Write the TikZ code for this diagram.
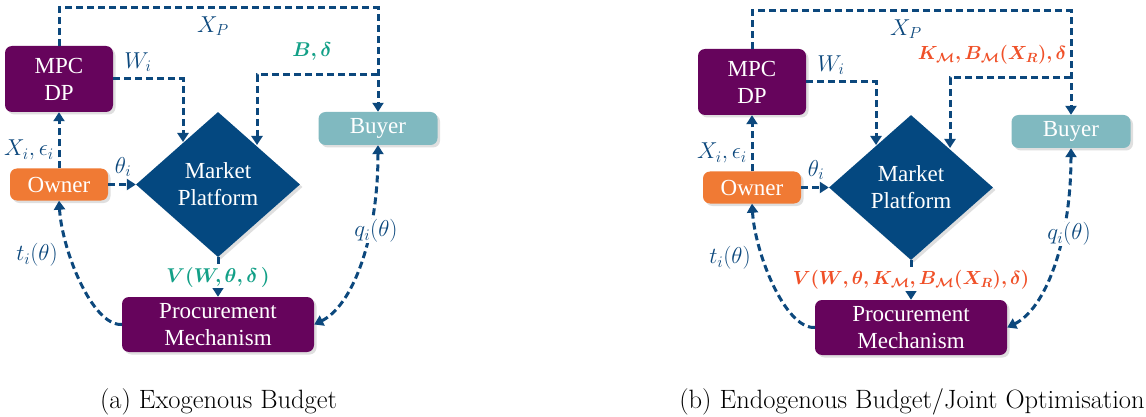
\documentclass[tikz,border=0pt]{standalone}
\usepackage{fix-cm}
\usepackage{amsmath,bm}
\usepackage{fontspec}
\newfontfamily\boxfont{Liberation Serif}
\usetikzlibrary{arrows.meta,shapes.geometric,shadows}
\definecolor{purp}{RGB}{102,4,92}
\definecolor{orng}{RGB}{240,122,52}
\definecolor{buy}{RGB}{128,185,192}
\definecolor{dblue}{RGB}{4,72,128}
\definecolor{lblue}{RGB}{12,72,125}
\definecolor{grn}{RGB}{18,160,135}
\definecolor{rd}{RGB}{240,80,40}
\tikzset{
  >={Triangle[width=11pt,length=9pt]},
  flow/.style={draw=lblue, line width=3pt, dash pattern=on 7pt off 4pt, ->},
  shd/.style={drop shadow={opacity=0.25, shadow xshift=2.5pt, shadow yshift=-2.5pt}},
  box/.style={rounded corners=7pt, text=white, font=\boxfont\fontsize{23}{27}\selectfont, align=center, inner sep=0pt, shd},
  lab/.style={text=lblue, font=\fontsize{23}{27}\selectfont, inner sep=1pt},
  blab/.style={font=\fontsize{20}{24}\selectfont, inner sep=1pt},
  rlab/.style={font=\fontsize{19}{23}\selectfont, inner sep=1pt},
  captxt/.style={font=\fontsize{26.5}{30}\selectfont, anchor=base}
}
\newcommand\drawpanel{%
  \node[box, fill=purp, minimum width=108pt, minimum height=66pt] (mpc) at (59,79) {MPC\\DP};
  \node[box, fill=orng, minimum width=98pt, minimum height=32pt] (owner) at (59,184.5) {Owner};
  \node[box, fill=buy, minimum width=119pt, minimum height=33pt] (buyer) at (378,128.5) {Buyer};
  \node[box, fill=purp, minimum width=192pt, minimum height=55pt] (proc) at (218,324.5) {Procurement\\Mechanism};
  \node[diamond, fill=dblue, minimum width=164pt, minimum height=145pt, inner sep=0pt, text=white, align=center, font=\boxfont\fontsize{23}{27}\selectfont, shd] (mk) at (218,184.5) {Market\\Platform};
  \coordinate (xp1) at (59,8);
  \coordinate (xp2) at (378,8);
  \coordinate (bd1) at (378,75);
  \coordinate (bd2) at (257,75);
  \coordinate (bd3) at (257,145);
  \coordinate (wi1) at (183,79);
  \coordinate (wi2) at (183,142);
  \draw[flow] (mpc.north) -- (xp1) -- (xp2) -- (buyer.north);
  \draw[flow] (mpc.east) -- (wi1) -- (wi2);
  \draw[flow] (bd1) -- (bd2) -- (bd3);
  \draw[flow] (owner.north) -- (mpc.south);
  \draw[flow] (owner.east) -- (mk.west);
  \draw[flow] (proc.west) .. controls (92,326) and (62,250) .. (owner.south);
  \draw[flow, <->] (proc.east) .. controls (352,306) and (378,240) .. (buyer.south);
  \node[lab] (lxp) at (213,26) {$X_P$};
  \node[lab] (lwi) at (138,62) {$W_i$};
  \node[lab] (lxe) at (29,150) {$X_i,\epsilon_i$};
  \node[lab] (lth) at (123,167) {$\theta_i$};
  \node[lab] (lti) at (37,255) {$t_i(\theta)$};
  \node[lab, fill=white] (lqi) at (376,231) {$q_i(\theta)$};
}
\begin{document}
\begin{tikzpicture}[x=1pt,y=-1pt]
\useasboundingbox[fill=white] (0,0) rectangle (1146,417);
\begin{scope}[name prefix=a-]
  \drawpanel
  \node[blab, text=grn] (lbd) at (312,52) {$\bm{B,\delta}$};
  \draw[flow] (mk.south) -- node[blab, text=grn, fill=white] (lv) {$\bm{V(W,\theta,\delta\,)}$} (proc.north);
\end{scope}
\begin{scope}[name prefix=b-, shift={(693,3)}]
  \drawpanel
  \node[rlab, text=rd] (lk) at (299,52) {$\bm{K_{\mathcal{M}},B_{\mathcal{M}}(X_R),\delta}$};
  \draw[flow] (mk.south) -- node[rlab, text=rd, fill=white] (lv) {$\bm{V(W{,}\,\theta{,}\,K_{\mathcal{M}}{,}\,B_{\mathcal{M}}(X_R){,}\,\delta)}$} (proc.north);
\end{scope}
\node[captxt] (capa) at (218.5,408) {(a) Exogenous Budget};
\node[captxt] (capb) at (912,408) {(b) Endogenous Budget/Joint Optimisation};
\end{tikzpicture}
\end{document}
